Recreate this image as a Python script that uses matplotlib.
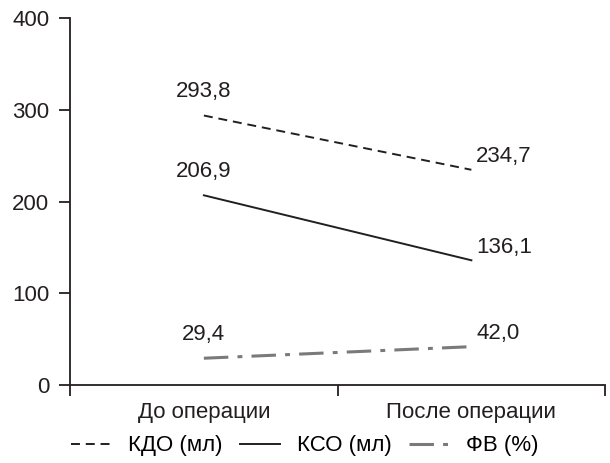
import matplotlib.pyplot as plt

plt.rcParams["font.family"] = ["Liberation Sans", "DejaVu Sans"]
plt.rcParams["font.size"] = 16

# ── Data ──────────────────────────────────────────────────────────────────────
categories = ["До операции", "После операции"]
kdo = [293.8, 234.7]
kso = [206.9, 136.1]
fv = [29.4, 42.0]
series_labels = ["КДО (мл)", "КСО (мл)", "ФВ (%)"]

INK = "#231f20"

# ── Plot ──────────────────────────────────────────────────────────────────────
fig = plt.figure(figsize=(6.1, 4.63), dpi=100)
ax = fig.add_axes([0.115, 0.168, 0.877, 0.793])

x = [0.5, 1.5]
styles = [
    dict(color=INK, lw=1.4, ls=(0, (4.6, 3))),
    dict(color=INK, lw=1.4, ls="-"),
    dict(color="#7a7a7a", lw=2.2, ls=(0, (8, 3, 1.6, 3))),
]
for vals, lab, st in zip([kdo, kso, fv], series_labels, styles):
    ax.plot(x, vals, label=lab, **st)
    ax.annotate(f"{vals[0]:.1f}".replace(".", ","), (x[0], vals[0]),
                xytext=(0, 17), textcoords="offset points", ha="center",
                va="center", color=INK)
    ax.annotate(f"{vals[1]:.1f}".replace(".", ","), (x[1], vals[1]),
                xytext=(3.5, 9.5), textcoords="offset points", ha="left",
                va="center", color=INK)

ax.set_xlim(0, 2)
ax.set_ylim(0, 400)
ax.set_yticks([0, 100, 200, 300, 400])
ax.set_xticks([0, 1, 2])
ax.set_xticklabels([])
ax.set_xticks(x, minor=True)
ax.set_xticklabels(categories, minor=True)
ax.tick_params(axis="x", which="minor", length=0, pad=12)
ax.tick_params(axis="x", which="major", length=8, width=1.3, color=INK)
ax.tick_params(axis="y", length=8, width=1.3, color=INK, pad=7)
ax.tick_params(colors=INK, which="both")

for side in ["top", "right"]:
    ax.spines[side].set_visible(False)
for side in ["left", "bottom"]:
    ax.spines[side].set_linewidth(1.3)
    ax.spines[side].set_color(INK)

fig.legend(loc="center", ncol=3, frameon=False, handlelength=1.8,
           handletextpad=0.75, columnspacing=0.8,
           bbox_to_anchor=(0.5, 1 - 446 / 463))

plt.savefig("out.png", dpi=100)
